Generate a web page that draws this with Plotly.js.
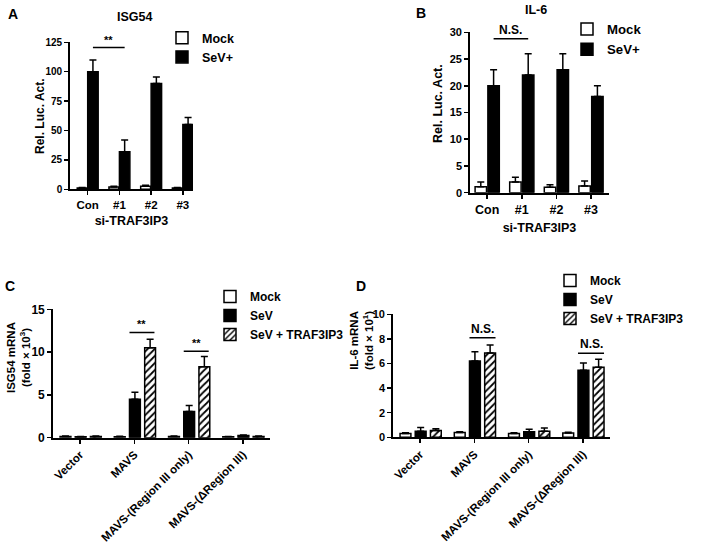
<!DOCTYPE html>
<html>
<head>
<meta charset="utf-8">
<script src="https://cdn.plot.ly/plotly-3.0.1.min.js"></script>
<style>html,body{margin:0;padding:0;background:#fff;}#chart{width:709px;height:546px;}</style>
</head>
<body>
<div id="chart"></div>
<script>
// ---------- data ----------
var catAB = ['Con', '#1', '#2', '#3'];
var mockA = [1, 2, 2.5, 1];
var mockAerr = [0.6, 0.6, 0.9, 0.5];
var sevA = [100, 32, 90, 55];
var sevAerr = [10, 10, 5.5, 6];

var mockB = [1.1, 2.0, 1.0, 1.25];
var mockBerr = [0.9, 0.9, 0.5, 0.95];
var sevB = [20, 22, 23, 18];
var sevBerr = [3, 4, 3, 2];

var catCD = ['Vector', 'MAVS', 'MAVS-(Region III only)', 'MAVS-(\u0394Region III)'];
var mockC = [0.15, 0.12, 0.15, 0.1];
var mockCerr = [0.04, 0.04, 0.04, 0.04];
var sevC = [0.1, 4.5, 3.05, 0.25];
var sevCerr = [0.03, 0.8, 0.7, 0.08];
var trafC = [0.15, 10.5, 8.3, 0.15];
var trafCerr = [0.05, 1.0, 1.2, 0.05];

var mockD = [0.3, 0.4, 0.3, 0.35];
var mockDerr = [0.07, 0.06, 0.08, 0.06];
var sevD = [0.5, 6.2, 0.45, 5.45];
var sevDerr = [0.3, 0.75, 0.2, 0.6];
var trafD = [0.55, 6.85, 0.5, 5.7];
var trafDerr = [0.15, 0.65, 0.25, 0.65];

var ticksA = [0, 25, 50, 75, 100, 125];
var ticksB = [0, 5, 10, 15, 20, 25, 30];
var ticksC = [0, 5, 10, 15];
var ticksD = [0, 2, 4, 6, 8, 10];

// ---------- helpers ----------
var W = 709, H = 546;
var FONT = 'Liberation Sans, Arial, Helvetica, sans-serif';
function px(x) { return x / W; }
function py(y) { return 1 - y / H; }
function idx(arr) { return arr.map(function (_, i) { return i; }); }
function bold(size) { return {family: FONT, size: size, color: '#000', weight: 'bold'}; }

function errObj(arr) {
  return {type: 'data', symmetric: false, array: arr, arrayminus: arr.map(function () { return 0; }),
          color: '#000', thickness: 1.5, width: 3.5, visible: true};
}
function bar(xa, ya, x, y, err, name, kind, legend, off, w) {
  var marker;
  if (kind === 'mock') marker = {color: '#fff', line: {color: '#000', width: 1.5}};
  else if (kind === 'sev') marker = {color: '#000', line: {color: '#000', width: 1.5}};
  else marker = {color: '#fff', line: {color: '#000', width: 1.5},
                 pattern: {shape: '/', bgcolor: '#fff', fgcolor: '#000', size: 5, solidity: 0.35}};
  return {type: 'bar', x: idx(x), y: y, name: name, xaxis: xa, yaxis: ya,
          offset: off, width: w, error_y: errObj(err), marker: marker,
          legend: legend, showlegend: true, hoverinfo: 'x+y'};
}

var data = [
  bar('x', 'y', catAB, mockA, mockAerr, 'Mock', 'mock', 'legend', -0.33, 0.31),
  bar('x', 'y', catAB, sevA, sevAerr, 'SeV+', 'sev', 'legend', 0.0, 0.33),
  bar('x2', 'y2', catAB, mockB, mockBerr, 'Mock', 'mock', 'legend2', -0.35, 0.33),
  bar('x2', 'y2', catAB, sevB, sevBerr, 'SeV+', 'sev', 'legend2', 0.02, 0.33),
  bar('x3', 'y3', catCD, mockC, mockCerr, 'Mock', 'mock', 'legend3', -0.37, 0.2),
  bar('x3', 'y3', catCD, sevC, sevCerr, 'SeV', 'sev', 'legend3', -0.09, 0.2),
  bar('x3', 'y3', catCD, trafC, trafCerr, 'SeV + TRAF3IP3', 'traf', 'legend3', 0.19, 0.2),
  bar('x4', 'y4', catCD, mockD, mockDerr, 'Mock', 'mock', 'legend4', -0.37, 0.2),
  bar('x4', 'y4', catCD, sevD, sevDerr, 'SeV', 'sev', 'legend4', -0.09, 0.2),
  bar('x4', 'y4', catCD, trafD, trafDerr, 'SeV + TRAF3IP3', 'traf', 'legend4', 0.19, 0.2)
];

function xAxis(dom, range, cats, anchor, angle, fs, title, standoff) {
  var a = {domain: dom, range: range, anchor: anchor, type: 'linear',
           tickmode: 'array', tickvals: idx(cats), ticktext: cats,
           showline: true, linecolor: '#000', linewidth: 1.8, ticks: 'outside', ticklen: 4,
           tickwidth: 1.5, tickcolor: '#000', showgrid: false, zeroline: false,
           tickfont: bold(fs), tickangle: angle, fixedrange: true};
  if (title) a.title = {text: title, font: bold(12.5), standoff: standoff};
  return a;
}
function yAxis(dom, range, ticks, anchor, fs) {
  return {domain: dom, range: range, anchor: anchor, tickmode: 'array', tickvals: ticks,
          showline: true, linecolor: '#000', linewidth: 1.8, ticks: 'outside', ticklen: 4,
          tickwidth: 1.5, tickcolor: '#000', showgrid: false, zeroline: false,
          tickfont: bold(fs), fixedrange: true};
}
function legendAt(x, y, fs) {
  return {x: px(x), y: py(y), xanchor: 'left', yanchor: 'top', bgcolor: 'rgba(0,0,0,0)',
          borderwidth: 0, font: bold(fs), traceorder: 'normal',
          itemclick: false, itemdoubleclick: false};
}

// significance brackets: [xaxis, yaxis, x0, x1, y, label]
var brackets = [
  ['x', 'y', 0.165, 1.165, 120.5, '**'],
  ['x2', 'y2', 0.185, 1.185, 28.8, 'N.S.'],
  ['x3', 'y3', 0.91, 1.37, 12.3, '**'],
  ['x3', 'y3', 1.91, 2.37, 10.1, '**'],
  ['x4', 'y4', 0.91, 1.39, 8.1, 'N.S.'],
  ['x4', 'y4', 2.91, 3.39, 6.83, 'N.S.']
];
var shapes = [], annotations = [];
brackets.forEach(function (b) {
  shapes.push({type: 'line', xref: b[0], yref: b[1], x0: b[2], x1: b[3], y0: b[4], y1: b[4],
               line: {color: '#000', width: 1.5}});
  annotations.push({xref: b[0], yref: b[1], x: (b[2] + b[3]) / 2, y: b[4], text: b[5],
                    showarrow: false, yanchor: 'bottom', yshift: 0,
                    font: bold(b[5] === '**' ? 11 : 12)});
});

function txt(x, y, t, size, angle) {
  annotations.push({xref: 'paper', yref: 'paper', x: px(x), y: py(y), text: t, showarrow: false,
                    xanchor: 'center', yanchor: 'middle', textangle: angle || 0, font: bold(size)});
}
txt(13, 14, 'A', 14);
txt(421, 13, 'B', 14);
txt(10, 286, 'C', 14);
txt(361, 286, 'D', 14);
txt(134, 17, 'ISG54', 12.5);
txt(536, 10, 'IL-6', 12.5);
txt(40, 116, 'Rel. Luc. Act.', 12, -90);
txt(438, 104, 'Rel. Luc. Act.', 12.5, -90);
txt(18, 358, 'ISG54 mRNA<br>(fold \u00d7 10<sup>3</sup>)', 11.5, -90);
txt(361, 341, 'IL-6 mRNA<br>(fold \u00d7 10<sup>1</sup>)', 11.5, -90);

var layout = {
  width: W, height: H, margin: {l: 0, r: 0, t: 0, b: 0}, paper_bgcolor: '#fff', plot_bgcolor: '#fff',
  barmode: 'overlay', showlegend: true, font: {family: FONT, color: '#000'},
  xaxis: xAxis([px(70), px(193)], [-0.558, 3.32], catAB, 'y', 0, 11.5, 'si-TRAF3IP3', 6),
  yaxis: yAxis([py(189.3), py(42.3)], [0, 125], ticksA, 'x', 10),
  xaxis2: xAxis([px(470), px(609)], [-0.497, 3.52], catAB, 'y2', 0, 12.5, 'si-TRAF3IP3', 8),
  yaxis2: yAxis([py(192.7), py(32.3)], [0, 30], ticksB, 'x2', 11),
  xaxis3: xAxis([px(53), px(270)], [-0.5, 3.5], catCD, 'y3', -45, 11.5, null, 0),
  yaxis3: yAxis([py(437.7), py(309.3)], [0, 15], ticksC, 'x3', 12),
  xaxis4: xAxis([px(393), px(610)], [-0.5, 3.5], catCD, 'y4', -45, 11.5, null, 0),
  yaxis4: yAxis([py(437.3), py(314.3)], [0, 10], ticksD, 'x4', 11),
  legend: legendAt(162, 23, 12.5),
  legend2: legendAt(567, 14, 13.2),
  legend3: legendAt(210, 282, 12),
  legend4: legendAt(550, 266, 12),
  shapes: shapes,
  annotations: annotations
};

Plotly.newPlot('chart', data, layout, {displayModeBar: false, staticPlot: true});
</script>
</body>
</html>
